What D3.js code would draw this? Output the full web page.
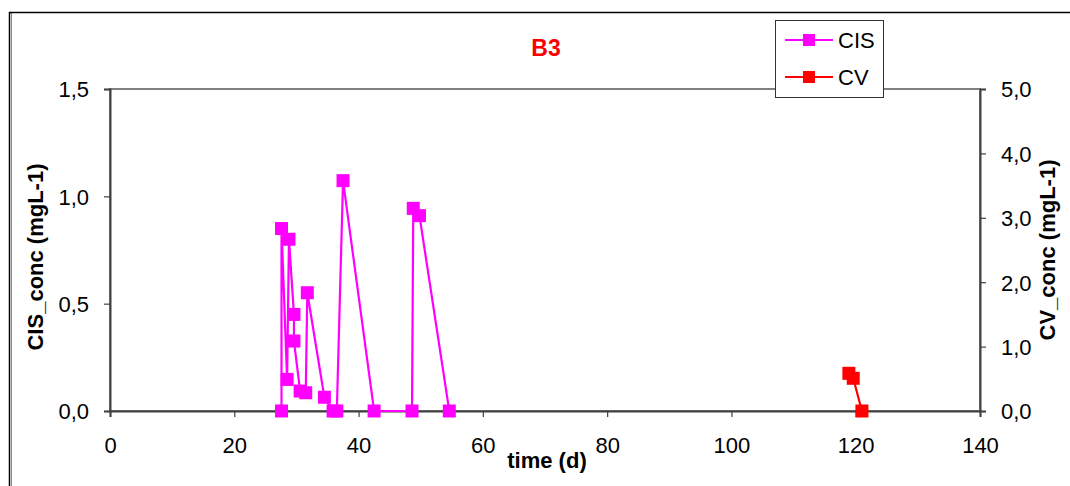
<!DOCTYPE html>
<html><head><meta charset="utf-8">
<script src="https://cdn.jsdelivr.net/npm/d3@7"></script>
<style>
html,body{margin:0;padding:0;background:#fff;}
svg{display:block;font-family:"Liberation Sans",Arial,sans-serif;}
</style></head>
<body><svg id="c" width="1070" height="486"></svg>
<script>
const cisTime = [27.6, 27.6, 28.5, 28.8, 29.6, 29.6, 30.6, 31.5, 31.75, 34.5, 35.9, 36.5, 37.5, 42.5, 48.6, 48.8, 49.8, 54.6];
const cisConc = [0, 0.85, 0.147, 0.80, 0.45, 0.326, 0.093, 0.085, 0.551, 0.064, 0, 0, 1.073, 0, 0, 0.944, 0.91, 0];
const cvTime = [118.9, 119.6, 121];
const cvConc = [0.585, 0.508, 0];
const xTicks = [0, 20, 40, 60, 80, 100, 120, 140];
const yLeftTicks = [0, 0.5, 1.0, 1.5];
const yRightTicks = [0, 1, 2, 3, 4, 5];

const svg = d3.select("#c");
const L = 110, R = 980, T = 89, B = 411;
const x = d3.scaleLinear().domain([0, 140]).range([L, R]);
const yL = d3.scaleLinear().domain([0, 1.5]).range([B, T]);
const yR = d3.scaleLinear().domain([0, 5]).range([B, T]);
const fmt = d => d.toFixed(1).replace(".", ",");
const FS = 22;

// outer frame
svg.append("line").attr("x1",9.5).attr("x2",9.5).attr("y1",12).attr("y2",486).attr("stroke","#000").attr("stroke-width",1.5);
svg.append("line").attr("x1",11.5).attr("x2",11.5).attr("y1",13).attr("y2",486).attr("stroke","#888").attr("stroke-width",1);
svg.append("line").attr("x1",9).attr("x2",1070).attr("y1",12.5).attr("y2",12.5).attr("stroke","#000").attr("stroke-width",1.5);

// plot frame
svg.append("rect").attr("x",L).attr("y",T).attr("width",R-L).attr("height",B-T)
  .attr("fill","none").attr("stroke","#808080").attr("stroke-width",2);

const axCol = "#404040";
const gx = svg.append("g").attr("transform",`translate(0,${B})`)
  .call(d3.axisBottom(x).tickValues(xTicks).tickSize(6).tickFormat(d3.format("d")));
const gl = svg.append("g").attr("transform",`translate(${L},0)`)
  .call(d3.axisLeft(yL).tickValues(yLeftTicks).tickSize(6).tickFormat(fmt));
const gr = svg.append("g").attr("transform",`translate(${R},0)`)
  .call(d3.axisRight(yR).tickValues(yRightTicks).tickSize(6).tickFormat(fmt));
[gx,gl,gr].forEach(g=>{
  g.attr("font-size",FS).attr("font-family","Liberation Sans, Arial, sans-serif");
  g.select(".domain").attr("stroke",axCol).attr("stroke-width",2);
  g.selectAll(".tick line").attr("stroke",axCol).attr("stroke-width",1.2);
  g.selectAll(".tick text").attr("font-size",FS).attr("fill","#000");
});
gx.selectAll(".tick text").attr("y",26).attr("dy","0.71em").attr("transform",null);
gx.selectAll(".tick text").attr("y",0).attr("dy",null).attr("dominant-baseline",null).attr("transform","translate(0,42)");
gl.selectAll(".tick text").attr("x",-21).attr("dy","0.36em");
gr.selectAll(".tick text").attr("x",21).attr("dy","0.36em");

// series
const cis = cisTime.map((t,i)=>[t,cisConc[i]]);
const cv = cvTime.map((t,i)=>[t,cvConc[i]]);
const ms = 13;
svg.append("path").datum(cis).attr("fill","none").attr("stroke","#ff00ff").attr("stroke-width",2.2)
  .attr("d", d3.line().x(d=>x(d[0])).y(d=>yL(d[1])));
svg.append("g").selectAll("rect").data(cis).join("rect")
  .attr("x",d=>x(d[0])-ms/2).attr("y",d=>yL(d[1])-ms/2).attr("width",ms).attr("height",ms).attr("fill","#ff00ff");
svg.append("path").datum(cv).attr("fill","none").attr("stroke","#ff0000").attr("stroke-width",2.2)
  .attr("d", d3.line().x(d=>x(d[0])).y(d=>yR(d[1])));
svg.append("g").selectAll("rect").data(cv).join("rect")
  .attr("x",d=>x(d[0])-ms/2).attr("y",d=>yR(d[1])-ms/2).attr("width",ms).attr("height",ms).attr("fill","#ff0000");

// title
svg.append("text").attr("x",546).attr("y",56).attr("text-anchor","middle").attr("font-size",23)
  .attr("font-weight","bold").attr("fill","#ff0000").text("B3");

// axis titles
svg.append("text").attr("x",547).attr("y",468).attr("text-anchor","middle").attr("font-size",FS)
  .attr("font-weight","bold").text("time (d)");
svg.append("text").attr("transform","translate(43,257) rotate(-90)").attr("text-anchor","middle").attr("font-size",FS)
  .attr("font-weight","bold").text("CIS_conc (mgL-1)");
svg.append("text").attr("transform","translate(1055,250) rotate(-90)").attr("text-anchor","middle").attr("font-size",FS)
  .attr("font-weight","bold").text("CV_conc (mgL-1)");

// legend
const lg = svg.append("g");
lg.append("rect").attr("x",775.5).attr("y",20.5).attr("width",108).attr("height",77).attr("fill","#fff").attr("stroke","#333").attr("stroke-width",1);
const items = [["CIS","#ff00ff",40],["CV","#ff0000",77]];
items.forEach(([name,col,yy])=>{
  lg.append("line").attr("x1",785).attr("x2",833).attr("y1",yy).attr("y2",yy).attr("stroke",col).attr("stroke-width",2);
  lg.append("rect").attr("x",803).attr("y",yy-6).attr("width",12).attr("height",12).attr("fill",col);
  lg.append("text").attr("x",838).attr("y",yy+8).attr("font-size",FS).text(name);
});
</script></body></html>
